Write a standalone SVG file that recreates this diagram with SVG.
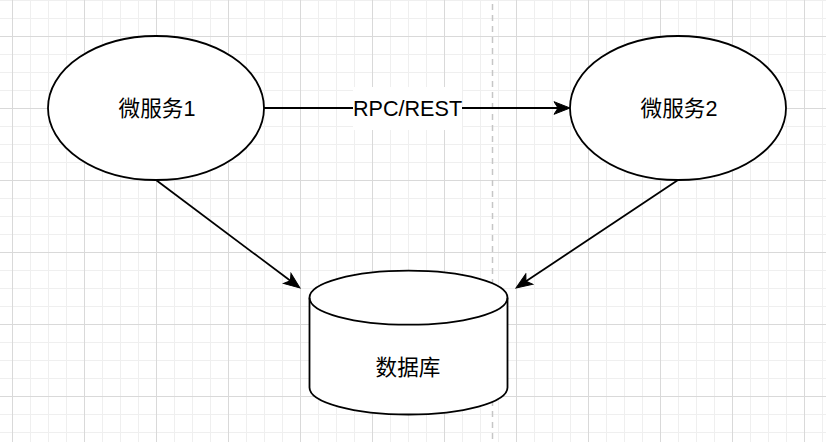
<svg xmlns="http://www.w3.org/2000/svg" width="826" height="442" viewBox="0 0 826 442">
<style>
.shape{fill:#ffffff;stroke:#000000;stroke-width:1.8}
.edge{fill:none;stroke:#000000;stroke-width:1.8}
.lbl{font-family:"Liberation Sans","Noto Sans CJK SC",sans-serif;font-size:21.6px;fill:#000000;text-anchor:middle;dominant-baseline:central}
</style>
<defs>
<pattern id="minor" width="18" height="18" patternUnits="userSpaceOnUse" x="12" y="0">
<path d="M0.5,0 V18 M0,0.5 H18" stroke="#efefef" stroke-width="1" fill="none"/>
</pattern>
<pattern id="major" width="72" height="72" patternUnits="userSpaceOnUse" x="12" y="36">
<path d="M0.5,0 V72 M0,0.5 H72" stroke="#d9d9d9" stroke-width="1" fill="none"/>
</pattern>
<marker id="arrow" viewBox="-5 -8 18 16" refX="0" refY="0" markerWidth="18" markerHeight="16" markerUnits="userSpaceOnUse" orient="auto">
<path d="M12,0 L-4,-6.3 L0,0 L-4,6.3 Z" fill="#000000" stroke="#000000" stroke-width="1"/>
</marker>
</defs>
<rect width="826" height="442" fill="#ffffff"/>
<rect width="826" height="442" fill="url(#minor)"/>
<rect width="826" height="442" fill="url(#major)"/>
<line x1="492.5" y1="4" x2="492.5" y2="442" stroke="#c6c6c6" stroke-width="1.5" stroke-dasharray="6 5"/>
<g id="connectors">
<path class="edge" d="M264,108 L558,108" marker-end="url(#arrow)"/>
<path class="edge" d="M156,180 L290.4,280.8" marker-end="url(#arrow)"/>
<path class="edge" d="M678,180 L526,281.3" marker-end="url(#arrow)"/>
<rect x="353" y="87" width="109" height="43" fill="#ffffff"/>
<text class="lbl" x="407.5" y="108">RPC/REST</text>
</g>
<g id="svc1">
<ellipse class="shape" cx="156" cy="108" rx="108" ry="72"/>
<text class="lbl" x="157" y="108">微服务1</text>
</g>
<g id="svc2">
<ellipse class="shape" cx="678" cy="108" rx="108" ry="72"/>
<text class="lbl" x="679" y="108">微服务2</text>
</g>
<g id="db">
<path class="shape" d="M309.5,297.7 A99,27 0 0 1 507.5,297.7 L507.5,387.5 A99,27 0 0 1 309.5,387.5 Z"/>
<path class="edge" d="M309.5,297.7 A99,27 0 0 0 507.5,297.7"/>
<text class="lbl" x="408" y="367">数据库</text>
</g>
</svg>
